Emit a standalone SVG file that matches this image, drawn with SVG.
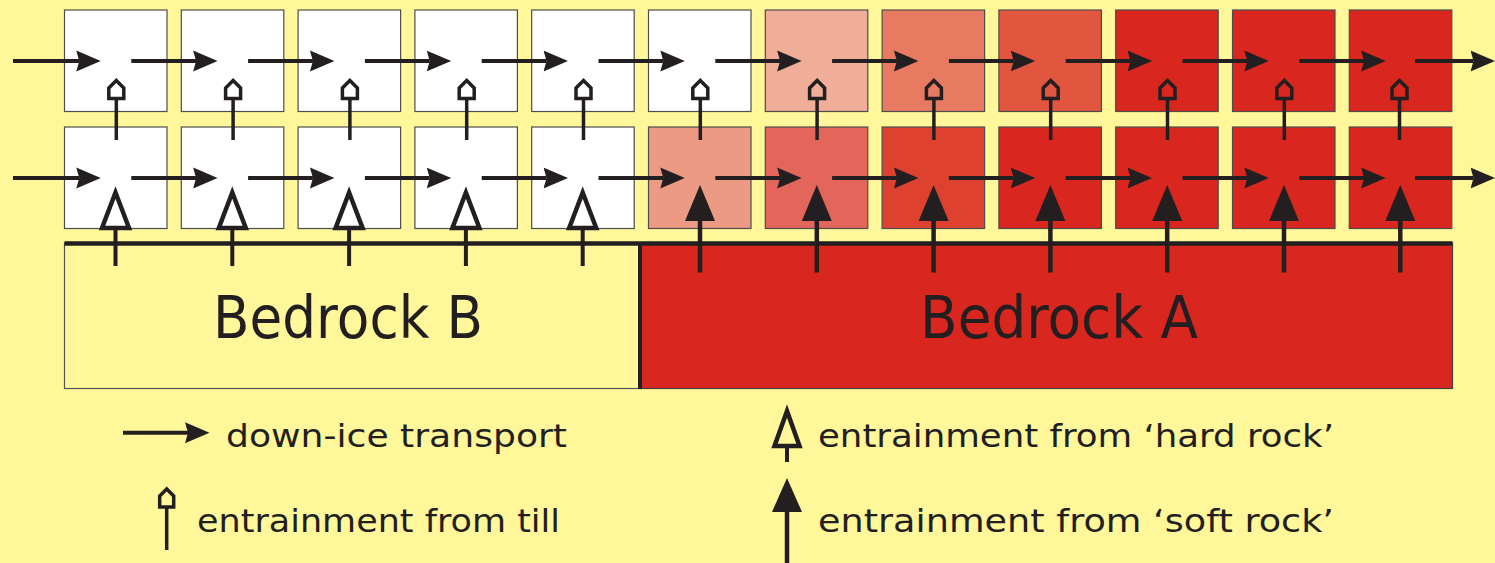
<svg xmlns="http://www.w3.org/2000/svg" width="1495" height="563" viewBox="0 0 1495 563">
  <style>
    .cell { stroke: #4d4d4d; stroke-width: 1.2; }
    .w { fill: #ffffff; }
    .t6 { fill: #f0ad98; }
    .t7 { fill: #e87a62; }
    .t8 { fill: #e25640; }
    .b5 { fill: #ec9a84; }
    .b6 { fill: #e4665a; }
    .b7 { fill: #de4130; }
    .red { fill: #d9261e; }
    .flow { stroke: #231f20; stroke-width: 4; fill: none; marker-end: url(#head); }
    .stem { stroke: #231f20; stroke-width: 3.5; fill: none; }
    .stem4 { stroke: #231f20; stroke-width: 4.5; fill: none; }
    .till { stroke: #231f20; stroke-width: 3.5; fill: none; stroke-linejoin: miter; }
    .hard { stroke: #231f20; stroke-width: 4.5; fill: none; stroke-linejoin: miter; }
    .soft { fill: #231f20; stroke: none; }
    .lbl { font-family: "DejaVu Sans", "Liberation Sans", sans-serif; font-size: 32px; fill: #231f20; }
    .big { font-family: "DejaVu Sans", "Liberation Sans", sans-serif; font-size: 59px; fill: #231f20; text-anchor: middle; }
  </style>
  <defs>
    <marker id="head" markerUnits="userSpaceOnUse" viewBox="0 -11 25 22" refX="3" refY="0" markerWidth="25" markerHeight="22" orient="auto">
      <path d="M0,-10.5 L24.5,0 L0,10.5 L3,0 Z" fill="#231f20"/>
    </marker>
    <!-- entrainment symbols, drawn at origin = cell centre -->
    <g id="tillArrow">
      <line class="stem" x1="0" y1="98.5" x2="0" y2="140"/>
      <path class="till" d="M-7.5,98.5 L-7.5,88 L0,80.5 L7.5,88 L7.5,98.5 Z"/>
    </g>
    <g id="hardArrow">
      <line class="stem" x1="0" y1="228" x2="0" y2="266" style="stroke-width:4"/>
      <path class="hard" d="M0,192.5 L-13.5,228 L13.5,228 Z"/>
    </g>
    <g id="softArrow">
      <line class="stem4" x1="0" y1="220" x2="0" y2="272.5"/>
      <path class="soft" d="M0,185 L-15,221 L15,221 Z"/>
    </g>
  </defs>

  <rect x="0" y="0" width="1495" height="563" fill="#fff799"/>

  <!-- bedrock units -->
  <g id="bedrock-b">
    <rect x="64.5" y="243" width="575.5" height="145.5" fill="#fff799" stroke="#555" stroke-width="1.2"/>
    <text class="big" x="348" y="338" textLength="270" lengthAdjust="spacingAndGlyphs">Bedrock B</text>
  </g>
  <g id="bedrock-a">
    <rect x="640" y="243" width="812.5" height="145.5" class="red" stroke="#444" stroke-width="1.2"/>
    <text class="big" x="1059" y="338" textLength="278" lengthAdjust="spacingAndGlyphs">Bedrock A</text>
  </g>
  <g id="bedrock-surface">
    <line x1="64.5" y1="243.5" x2="1452.5" y2="243.5" stroke="#231f20" stroke-width="4.5"/>
    <line x1="640" y1="243" x2="640" y2="389" stroke="#231f20" stroke-width="4"/>
  </g>

  <!-- upper till layer -->
  <g id="upper-row">
    <rect id="u0" class="cell w" x="64.5" y="10" width="102.5" height="101.5"/>
    <rect id="u1" class="cell w" x="181.3" y="10" width="102.5" height="101.5"/>
    <rect id="u2" class="cell w" x="298.1" y="10" width="102.5" height="101.5"/>
    <rect id="u3" class="cell w" x="414.9" y="10" width="102.5" height="101.5"/>
    <rect id="u4" class="cell w" x="531.7" y="10" width="102.5" height="101.5"/>
    <rect id="u5" class="cell w" x="648.5" y="10" width="102.5" height="101.5"/>
    <rect id="u6" class="cell t6" x="765.3" y="10" width="102.5" height="101.5"/>
    <rect id="u7" class="cell t7" x="882.1" y="10" width="102.5" height="101.5"/>
    <rect id="u8" class="cell t8" x="998.9" y="10" width="102.5" height="101.5"/>
    <rect id="u9" class="cell red" x="1115.7" y="10" width="102.5" height="101.5"/>
    <rect id="u10" class="cell red" x="1232.5" y="10" width="102.5" height="101.5"/>
    <rect id="u11" class="cell red" x="1349.3" y="10" width="102.5" height="101.5"/>
  </g>

  <!-- lower till layer -->
  <g id="lower-row">
    <rect id="l0" class="cell w" x="64.5" y="127" width="102.5" height="101.5"/>
    <rect id="l1" class="cell w" x="181.3" y="127" width="102.5" height="101.5"/>
    <rect id="l2" class="cell w" x="298.1" y="127" width="102.5" height="101.5"/>
    <rect id="l3" class="cell w" x="414.9" y="127" width="102.5" height="101.5"/>
    <rect id="l4" class="cell w" x="531.7" y="127" width="102.5" height="101.5"/>
    <rect id="l5" class="cell b5" x="648.5" y="127" width="102.5" height="101.5"/>
    <rect id="l6" class="cell b6" x="765.3" y="127" width="102.5" height="101.5"/>
    <rect id="l7" class="cell b7" x="882.1" y="127" width="102.5" height="101.5"/>
    <rect id="l8" class="cell red" x="998.9" y="127" width="102.5" height="101.5"/>
    <rect id="l9" class="cell red" x="1115.7" y="127" width="102.5" height="101.5"/>
    <rect id="l10" class="cell red" x="1232.5" y="127" width="102.5" height="101.5"/>
    <rect id="l11" class="cell red" x="1349.3" y="127" width="102.5" height="101.5"/>
  </g>

  <!-- connectors: down-ice transport and entrainment -->
  <g id="connectors">
    <!-- upper row transport -->
    <line class="flow" x1="13" y1="61" x2="79.25" y2="61"/>
    <line class="flow" x1="131.3" y1="61" x2="196.1" y2="61"/>
    <line class="flow" x1="248.1" y1="61" x2="312.9" y2="61"/>
    <line class="flow" x1="364.9" y1="61" x2="429.7" y2="61"/>
    <line class="flow" x1="481.7" y1="61" x2="546.5" y2="61"/>
    <line class="flow" x1="598.5" y1="61" x2="663.3" y2="61"/>
    <line class="flow" x1="715.3" y1="61" x2="780.1" y2="61"/>
    <line class="flow" x1="832.1" y1="61" x2="896.9" y2="61"/>
    <line class="flow" x1="948.9" y1="61" x2="1013.7" y2="61"/>
    <line class="flow" x1="1065.7" y1="61" x2="1130.5" y2="61"/>
    <line class="flow" x1="1182.5" y1="61" x2="1247.3" y2="61"/>
    <line class="flow" x1="1299.3" y1="61" x2="1364.1" y2="61"/>
    <line class="flow" x1="1415" y1="61" x2="1473.5" y2="61"/>
    <!-- lower row transport -->
    <line class="flow" x1="13" y1="178" x2="79.25" y2="178"/>
    <line class="flow" x1="131.3" y1="178" x2="196.1" y2="178"/>
    <line class="flow" x1="248.1" y1="178" x2="312.9" y2="178"/>
    <line class="flow" x1="364.9" y1="178" x2="429.7" y2="178"/>
    <line class="flow" x1="481.7" y1="178" x2="546.5" y2="178"/>
    <line class="flow" x1="598.5" y1="178" x2="663.3" y2="178"/>
    <line class="flow" x1="715.3" y1="178" x2="780.1" y2="178"/>
    <line class="flow" x1="832.1" y1="178" x2="896.9" y2="178"/>
    <line class="flow" x1="948.9" y1="178" x2="1013.7" y2="178"/>
    <line class="flow" x1="1065.7" y1="178" x2="1130.5" y2="178"/>
    <line class="flow" x1="1182.5" y1="178" x2="1247.3" y2="178"/>
    <line class="flow" x1="1299.3" y1="178" x2="1364.1" y2="178"/>
    <line class="flow" x1="1415" y1="178" x2="1473.5" y2="178"/>
    <!-- entrainment from till into upper layer -->
    <use href="#tillArrow" x="116.3" y="0"/>
    <use href="#tillArrow" x="233.1" y="0"/>
    <use href="#tillArrow" x="349.9" y="0"/>
    <use href="#tillArrow" x="466.7" y="0"/>
    <use href="#tillArrow" x="583.5" y="0"/>
    <use href="#tillArrow" x="700.3" y="0"/>
    <use href="#tillArrow" x="817.1" y="0"/>
    <use href="#tillArrow" x="933.9" y="0"/>
    <use href="#tillArrow" x="1050.7" y="0"/>
    <use href="#tillArrow" x="1167.5" y="0"/>
    <use href="#tillArrow" x="1284.3" y="0"/>
    <use href="#tillArrow" x="1399.5" y="0"/>
    <!-- entrainment from bedrock B (hard rock) -->
    <use href="#hardArrow" x="115.5" y="0"/>
    <use href="#hardArrow" x="232.3" y="0"/>
    <use href="#hardArrow" x="349.1" y="0"/>
    <use href="#hardArrow" x="465.9" y="0"/>
    <use href="#hardArrow" x="582.7" y="0"/>
    <!-- entrainment from bedrock A (soft rock) -->
    <use href="#softArrow" x="700" y="0"/>
    <use href="#softArrow" x="816.8" y="0"/>
    <use href="#softArrow" x="933.6" y="0"/>
    <use href="#softArrow" x="1050.4" y="0"/>
    <use href="#softArrow" x="1167.2" y="0"/>
    <use href="#softArrow" x="1284" y="0"/>
    <use href="#softArrow" x="1400.3" y="0"/>
  </g>

  <!-- legend -->
  <g id="legend-transport">
    <line class="flow" x1="123" y1="432.7" x2="188" y2="432.7"/>
    <text class="lbl" x="226" y="447" textLength="341" lengthAdjust="spacingAndGlyphs">down-ice transport</text>
  </g>
  <g id="legend-till">
    <line class="stem" x1="166.7" y1="507" x2="166.7" y2="550"/>
    <path class="till" d="M159.7,507 L159.7,496 L166.7,489 L173.7,496 L173.7,507 Z"/>
    <text class="lbl" x="197" y="532" textLength="363" lengthAdjust="spacingAndGlyphs">entrainment from till</text>
  </g>
  <g id="legend-hard">
    <line class="stem" x1="787" y1="446" x2="787" y2="462" style="stroke-width:4"/>
    <path class="hard" d="M787,411 L774.5,446 L799.5,446 Z"/>
    <text class="lbl" x="818" y="447" textLength="516" lengthAdjust="spacingAndGlyphs">entrainment from ‘hard rock’</text>
  </g>
  <g id="legend-soft">
    <line class="stem4" x1="787" y1="510" x2="787" y2="563"/>
    <path class="soft" d="M787,478 L772,512 L802,512 Z"/>
    <text class="lbl" x="818" y="532" textLength="516" lengthAdjust="spacingAndGlyphs">entrainment from ‘soft rock’</text>
  </g>
</svg>
